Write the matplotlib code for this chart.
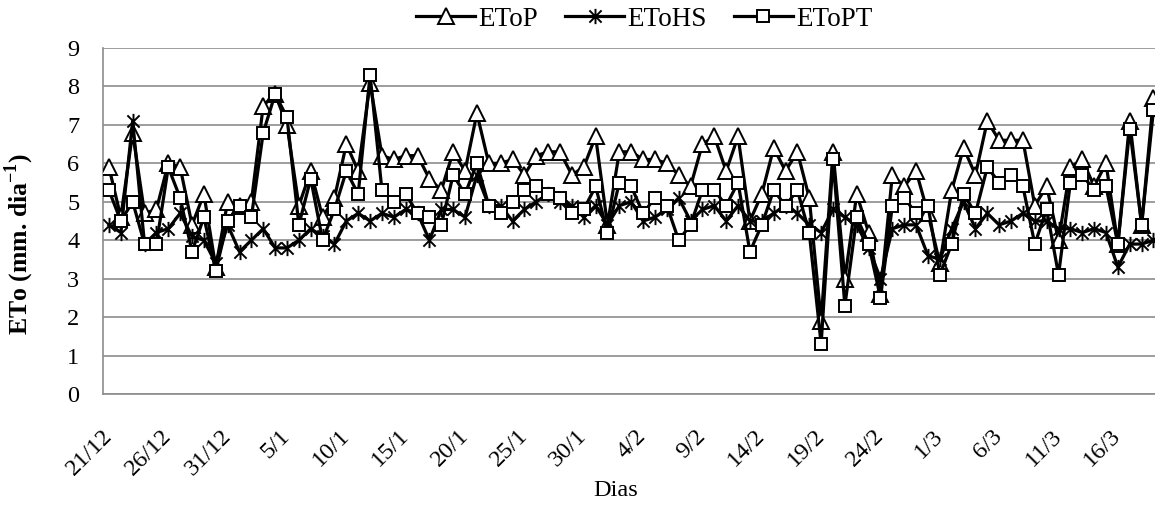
import matplotlib
matplotlib.use("Agg")
import matplotlib.pyplot as plt
from matplotlib.path import Path
import numpy as np
import datetime as dt

# ---- data ----
start_date = dt.date(2012, 12, 21)
n_days = 89

etop = [5.9, 4.6, 6.8, 4.7, 4.8, 6.0, 5.9, 4.4, 5.2, 3.3,
        5.0, 4.9, 5.0, 7.5, 7.8, 7.0, 4.9, 5.8, 4.6, 5.1,
        6.5, 5.8, 8.1, 6.2, 6.1, 6.2, 6.2, 5.6, 5.3, 6.3,
        5.8, 7.3, 6.0, 6.0, 6.1, 5.7, 6.2, 6.3, 6.3, 5.7,
        5.9, 6.7, 4.4, 6.3, 6.3, 6.1, 6.1, 6.0, 5.7, 5.4,
        6.5, 6.7, 5.8, 6.7, 4.5, 5.2, 6.4, 5.8, 6.3, 5.1,
        1.9, 6.3, 3.0, 5.2, 4.2, 2.6, 5.7, 5.4, 5.8, 4.7,
        3.4, 5.3, 6.4, 5.7, 7.1, 6.6, 6.6, 6.6, 4.9, 5.4,
        4.0, 5.9, 6.1, 5.4, 6.0, 3.9, 7.1, 4.4, 7.7]

etohs = [4.4, 4.2, 7.1, 3.9, 4.2, 4.3, 4.7, 4.1, 4.0, 3.4,
         4.4, 3.7, 4.0, 4.3, 3.8, 3.8, 4.0, 4.3, 4.1, 3.9,
         4.5, 4.7, 4.5, 4.7, 4.6, 4.8, 4.7, 4.0, 4.8, 4.8,
         4.6, 5.7, 4.9, 4.9, 4.5, 4.8, 5.0, 5.2, 5.0, 4.9,
         4.6, 4.9, 4.4, 4.9, 5.0, 4.5, 4.6, 4.8, 5.1, 4.5,
         4.8, 4.9, 4.5, 4.9, 4.5, 4.5, 4.7, 4.9, 4.7, 4.4,
         4.2, 4.8, 4.6, 4.4, 3.8, 3.0, 4.3, 4.4, 4.4, 3.6,
         3.5, 4.3, 5.0, 4.3, 4.7, 4.4, 4.5, 4.7, 4.5, 4.5,
         4.3, 4.3, 4.2, 4.3, 4.2, 3.3, 3.9, 3.9, 4.0]

etopt = [5.3, 4.5, 5.0, 3.9, 3.9, 5.9, 5.1, 3.7, 4.6, 3.2,
         4.5, 4.9, 4.6, 6.8, 7.8, 7.2, 4.4, 5.6, 4.0, 4.8,
         5.8, 5.2, 8.3, 5.3, 5.0, 5.2, 4.7, 4.6, 4.4, 5.7,
         5.2, 6.0, 4.9, 4.7, 5.0, 5.3, 5.4, 5.2, 5.1, 4.7,
         4.8, 5.4, 4.2, 5.5, 5.4, 4.7, 5.1, 4.9, 4.0, 4.4,
         5.3, 5.3, 4.9, 5.5, 3.7, 4.4, 5.3, 4.9, 5.3, 4.2,
         1.3, 6.1, 2.3, 4.6, 3.9, 2.5, 4.9, 5.1, 4.7, 4.9,
         3.1, 3.9, 5.2, 4.7, 5.9, 5.5, 5.7, 5.4, 3.9, 4.8,
         3.1, 5.5, 5.7, 5.3, 5.4, 3.9, 6.9, 4.4, 7.4]

series_names = ["EToP", "EToHS", "EToPT"]
y_ticks = list(range(0, 10))
ylabel_text = "ETo (mm. dia$^{\\mathbf{-1}}$)"
xlabel_text = "Dias"

dates = [start_date + dt.timedelta(days=i) for i in range(n_days)]
day_labels = [f"{d.day}/{d.month}" for d in dates]

# ---- style ----
plt.rcParams['font.family'] = ['Liberation Serif', 'DejaVu Serif']
plt.rcParams['mathtext.fontset'] = 'custom'
plt.rcParams['mathtext.rm'] = 'Liberation Serif'
plt.rcParams['mathtext.bf'] = 'Liberation Serif:bold'

W, H = 1155, 505
fig = plt.figure(figsize=(W / 100, H / 100), dpi=100)
left_px, top_px, bottom_px = 103, 48, 394
cat_w = 11.87
ax_w_px = n_days * cat_w
ax = fig.add_axes([left_px / W, 1 - bottom_px / H,
                   ax_w_px / W, (bottom_px - top_px) / H])

x = np.arange(n_days)

# asterisk marker: vertical line + X
ast = Path([(0, -1), (0, 1), (-0.8, -0.8), (0.8, 0.8), (-0.8, 0.8), (0.8, -0.8)],
           [Path.MOVETO, Path.LINETO, Path.MOVETO, Path.LINETO, Path.MOVETO, Path.LINETO])

lw = 2.3
ax.plot(x, etop, color='black', lw=lw, marker='^', markersize=12,
        markerfacecolor='white', markeredgecolor='black', markeredgewidth=1.4,
        label=series_names[0], zorder=3)
ax.plot(x, etohs, color='black', lw=lw, marker=ast, markersize=11,
        markeredgecolor='black', markeredgewidth=1.4,
        label=series_names[1], zorder=4)
ax.plot(x, etopt, color='black', lw=lw, marker='s', markersize=9,
        markerfacecolor='white', markeredgecolor='black', markeredgewidth=1.4,
        label=series_names[2], zorder=5)

ax.set_xlim(-0.5, n_days - 0.5)
ax.set_ylim(0, 9)
ax.set_yticks(y_ticks)
ax.set_yticklabels([str(v) for v in y_ticks], fontsize=17.5)
tick_idx = list(range(0, n_days, 5))
ax.set_xticks(tick_idx)
ax.set_xticklabels([day_labels[i] for i in tick_idx], fontsize=17.5, rotation=45,
                   ha='right', va='center', rotation_mode='anchor')
ax.tick_params(axis='x', length=0, pad=28)
ax.tick_params(axis='y', length=0, pad=17)

ax.grid(axis='y', color='#8c8c8c', lw=1.2)
ax.set_axisbelow(True)
for s in ['top', 'right']:
    ax.spines[s].set_visible(False)
for s in ['left', 'bottom']:
    ax.spines[s].set_color('#8c8c8c')
    ax.spines[s].set_linewidth(1.2)

ax.set_ylabel(ylabel_text, fontsize=18.5, fontweight='bold')
ax.yaxis.set_label_coords(-(left_px - 36) / ax_w_px, (bottom_px - 244) / (bottom_px - top_px))
fig.text(616 / W, 1 - 490 / H, xlabel_text, fontsize=17.5, ha='center', va='center')

leg = fig.legend(loc='center', bbox_to_anchor=(644 / W, 1 - 19 / H), ncol=3,
                 frameon=False, fontsize=19.5, handlelength=2.2, handletextpad=0.1,
                 columnspacing=1.0, borderaxespad=0)

fig.savefig("out.png", dpi=100)
